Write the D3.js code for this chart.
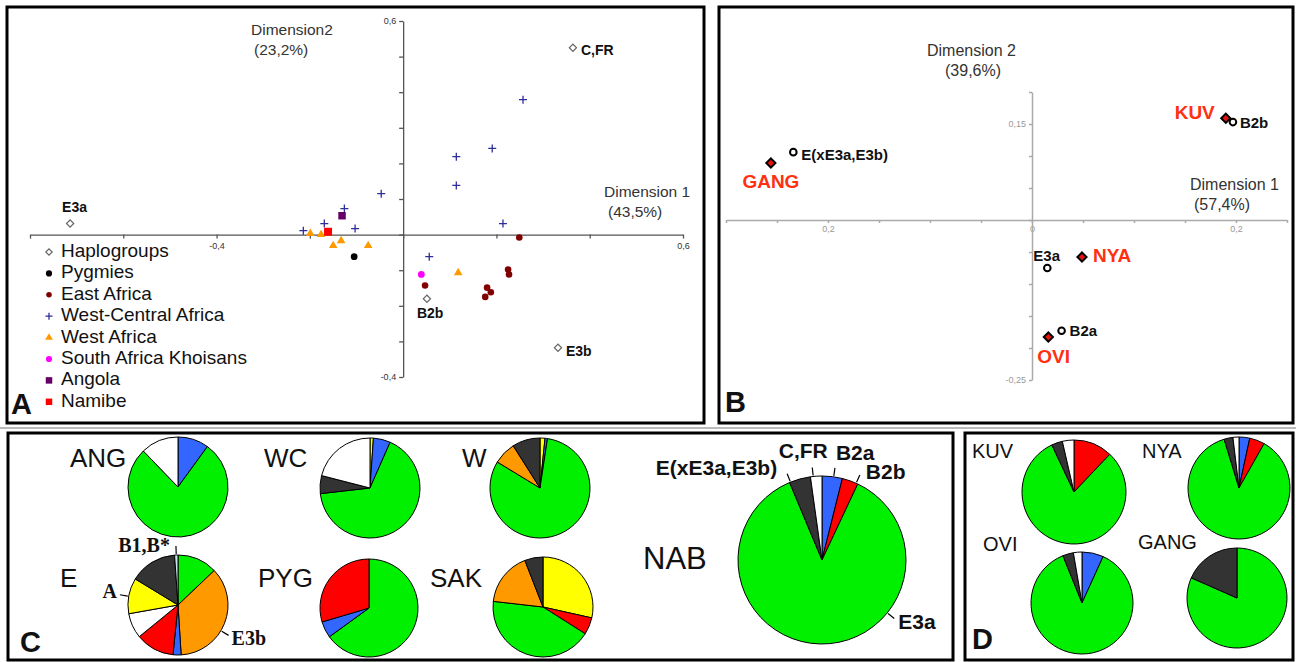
<!DOCTYPE html>
<html>
<head>
<meta charset="utf-8">
<script src="https://cdn.jsdelivr.net/npm/d3@7/dist/d3.min.js"></script>
<style>
body { margin: 0; background: #fff; }
svg { display: block; font-family: "Liberation Sans", Arial, sans-serif; }
</style>
</head>
<body>
<svg id="svg" width="1296" height="662"></svg>
<script>
// ---------- A: correspondence analysis, all populations ----------
var hapA = [
    {name: 'E3a', x: -0.714, y: 0.031},
    {name: 'C,FR', x: 0.364, y: 0.525},
    {name: 'B2b', x: 0.051, y: -0.180},
    {name: 'E3b', x: 0.332, y: -0.318}
];
var pygmies = [[-0.105, -0.062]];
var eastAfrica = [[0.249, -0.008], [0.225, -0.098], [0.227, -0.112], [0.047, -0.143],
                  [0.180, -0.149], [0.188, -0.162], [0.176, -0.175]];
var westCentral = [[-0.214, 0.011], [-0.169, 0.031], [-0.126, 0.073], [-0.103, 0.017],
                   [-0.047, 0.115], [0.114, 0.219], [0.114, 0.138], [0.191, 0.242],
                   [0.257, 0.379], [0.214, 0.031], [0.056, -0.062]];
var westAfrica = [[-0.199, 0.003], [-0.176, 0.000], [-0.150, -0.031], [-0.133, -0.017],
                  [-0.075, -0.031], [0.118, -0.107]];
var khoisans = [[0.039, -0.112]];
var angola = [[-0.131, 0.053]];
var namibe = [[-0.161, 0.008]];
var legendA = ['Haplogroups', 'Pygmies', 'East Africa', 'West-Central Africa', 'West Africa',
               'South Africa Khoisans', 'Angola', 'Namibe'];
var xTicksA = [-0.4, 0.6], yTicksA = [0.6, -0.4];

// ---------- B: Angolan groups only ----------
var popsB = [
    {name: 'KUV', x: 0.190, y: 0.159},
    {name: 'GANG', x: -0.256, y: 0.089},
    {name: 'NYA', x: 0.049, y: -0.058},
    {name: 'OVI', x: 0.016, y: -0.183}
];
var hapB = [
    {name: 'B2b', x: 0.197, y: 0.153},
    {name: 'E(xE3a,E3b)', x: -0.234, y: 0.106},
    {name: 'E3a', x: 0.015, y: -0.075},
    {name: 'B2a', x: 0.029, y: -0.173}
];
var xTicksB = [-0.2, 0, 0.2], xTickTextB = ['0,2', '0', '0,2'];
var yTicksB = [0.15, -0.25], yTickTextB = ['0,15', '-0,25'];

// ---------- C / D: haplogroup frequencies (%), clockwise from 12 o'clock ----------
var pieANG = [['B2a', 10.0], ['E3a', 77.8], ['CFR', 12.2]];
var pieWC = [['A', 1.1], ['B2a', 5.5], ['E3a', 66.6], ['Ex', 5.8], ['CFR', 21.0]];
var pieW = [['A', 1.6], ['B2a', 0.8], ['E3a', 81.3], ['E3b', 7.3], ['Ex', 9.0]];
var pieE = [['E3a', 12.9], ['E3b', 36.1], ['B2a', 2.6], ['B2b', 12.5], ['CFR', 8.1],
            ['A', 11.5], ['Ex', 15.2], ['B1', 1.1]];
var piePYG = [['E3a', 65.0], ['B2a', 5.4], ['B2b', 29.6]];
var pieSAK = [['A', 28.5], ['B2b', 5.5], ['E3a', 42.8], ['E3b', 17.3], ['Ex', 5.9]];
var pieNAB = [['B2a', 3.9], ['B2b', 3.1], ['E3a', 86.7], ['Ex', 4.1], ['CFR', 2.2]];
var pieKUV = [['B2b', 12.1], ['E3a', 80.9], ['Ex', 3.4], ['CFR', 3.6]];
var pieNYA = [['B2a', 3.4], ['B2b', 4.8], ['E3a', 87.1], ['Ex', 2.8], ['CFR', 1.9]];
var pieOVI = [['B2a', 6.8], ['E3a', 87.1], ['Ex', 3.4], ['CFR', 2.7]];
var pieGANG = [['E3a', 81.6], ['Ex', 18.4]];

var hapColor = {A: '#ffff00', B2a: '#3366ff', B2b: '#ff0000', E3a: '#00f000', E3b: '#ff9900',
                Ex: '#333333', CFR: '#ffffff', B1: '#cfe4ec'};

var svg = d3.select('#svg');
var FONT = '"Liberation Sans", Arial, sans-serif';

// panel frames
function frame(x0, y0, x1, y1) {
    svg.append('rect').attr('x', x0).attr('y', y0).attr('width', x1 - x0).attr('height', y1 - y0)
        .attr('fill', 'none').attr('stroke', '#000').attr('stroke-width', 3);
}
frame(7, 7, 704, 423);
frame(719, 7, 1293, 423);
frame(8, 433, 953, 660);
frame(965, 433, 1293, 660);
svg.append('line').attr('x1', 0).attr('x2', 1296).attr('y1', 428).attr('y2', 428)
    .attr('stroke', '#777').attr('stroke-width', 1);

function txt(g, x, y, s, size, opt) {
    opt = opt || {};
    return g.append('text').attr('x', x).attr('y', y).text(s)
        .attr('font-size', size).attr('font-family', opt.family || FONT)
        .attr('font-weight', opt.weight || 'normal')
        .attr('fill', opt.fill || '#111')
        .attr('text-anchor', opt.anchor || 'start');
}

function mark(g, shape, size) {
    var p;
    if (shape === 'plus') {
        p = g.append('path').attr('d', 'M' + (-size) + ',0H' + size + 'M0,' + (-size) + 'V' + size);
    } else if (shape === 'diamond') {
        p = g.append('path').attr('d', d3.symbol().type(d3.symbolSquare).size(size)())
            .attr('transform', 'rotate(45)');
    } else {
        var t = {circle: d3.symbolCircle, triangle: d3.symbolTriangle, square: d3.symbolSquare}[shape];
        p = g.append('path').attr('d', d3.symbol().type(t).size(size)());
    }
    return p;
}

function tickText(d, vals, texts) {
    for (var i = 0; i < vals.length; i++) {
        if (Math.abs(vals[i] - d) < 1e-6) return texts ? texts[i] : String(vals[i]).replace('.', ',');
    }
    return '';
}

function styleAxis(sel, col, w, tcol) {
    sel.selectAll('path, line').attr('stroke', col).attr('stroke-width', w);
    sel.selectAll('text').attr('font-size', 9).attr('fill', tcol).attr('font-family', FONT);
}

// ================= Panel A =================
var gA = svg.append('g');
var xA = d3.scaleLinear().domain([-0.8, 0.6]).range([30, 683]);
var yA = d3.scaleLinear().domain([-0.4, 0.6]).range([377, 21]);

var axXA = gA.append('g').attr('transform', 'translate(0,' + yA(0) + ')')
    .call(d3.axisBottom(xA).tickValues(d3.range(-4, 4).map(function (i) { return i * 0.2; }))
        .tickSize(4).tickSizeOuter(0)
        .tickFormat(function (d) { return tickText(d, xTicksA); }));
styleAxis(axXA, '#555', 1.3, '#333');
axXA.selectAll('text').attr('y', 8);

var axYA = gA.append('g').attr('transform', 'translate(' + xA(0) + ',0)')
    .call(d3.axisLeft(yA).tickValues(d3.range(-4, 7).map(function (i) { return i * 0.1; }))
        .tickSize(4).tickSizeOuter(0)
        .tickFormat(function (d) { return tickText(d, yTicksA); }));
styleAxis(axYA, '#555', 1.3, '#333');

var seriesA = [
    {pts: hapA.map(function (d) { return [d.x, d.y]; }), shape: 'diamond', fill: '#fff', stroke: '#666', sw: 1.2, size: 26, lsize: 20},
    {pts: pygmies, shape: 'circle', fill: '#000', stroke: 'none', size: 36, lsize: 30},
    {pts: eastAfrica, shape: 'circle', fill: '#800000', stroke: 'none', size: 34, lsize: 24},
    {pts: westCentral, shape: 'plus', fill: 'none', stroke: '#2e2e9a', sw: 1.3, size: 4, lsize: 3.5},
    {pts: westAfrica, shape: 'triangle', fill: '#ff9900', stroke: 'none', size: 32, lsize: 26},
    {pts: khoisans, shape: 'circle', fill: '#ff00ff', stroke: 'none', size: 36, lsize: 30},
    {pts: angola, shape: 'square', fill: '#660066', stroke: 'none', size: 56, lsize: 42},
    {pts: namibe, shape: 'square', fill: '#ff0000', stroke: 'none', size: 64, lsize: 42}
];

seriesA.forEach(function (s) {
    s.pts.forEach(function (p) {
        var g = gA.append('g').attr('transform', 'translate(' + xA(p[0]) + ',' + yA(p[1]) + ')');
        mark(g, s.shape, s.size).attr('fill', s.fill).attr('stroke', s.stroke).attr('stroke-width', s.sw || 0);
    });
});

var labA = {'E3a': [-8, -12], 'C,FR': [8, 7], 'B2b': [-10, 19], 'E3b': [8, 8]};
hapA.forEach(function (d) {
    txt(gA, xA(d.x) + labA[d.name][0], yA(d.y) + labA[d.name][1], d.name, 14, {weight: 'bold'});
});

txt(gA, 251, 35, 'Dimension2', 15.5, {fill: '#333'});
txt(gA, 254, 55, '(23,2%)', 15.5, {fill: '#333'});
txt(gA, 604, 197, 'Dimension 1', 15.5, {fill: '#333'});
txt(gA, 608, 217, '(43,5%)', 15.5, {fill: '#333'});

legendA.forEach(function (name, i) {
    var s = seriesA[i], y = 257 + i * 21.4;
    var g = gA.append('g').attr('transform', 'translate(49,' + (y - 5) + ')');
    mark(g, s.shape, s.lsize).attr('fill', s.fill).attr('stroke', s.stroke).attr('stroke-width', s.sw || 0);
    txt(gA, 61, y, name, 19);
});
txt(gA, 11, 414, 'A', 29, {weight: 'bold'});

// ================= Panel B =================
var gB = svg.append('g');
var xB = d3.scaleLinear().domain([-0.3, 0.25]).range([726, 1287]);
var yB = d3.scaleLinear().domain([-0.25, 0.2]).range([380, 92]);

var axXB = gB.append('g').attr('transform', 'translate(0,' + yB(0) + ')')
    .call(d3.axisBottom(xB).tickValues(d3.range(-6, 6).map(function (i) { return i * 0.05; }))
        .tickSize(3).tickSizeOuter(0)
        .tickFormat(function (d) { return tickText(d, xTicksB, xTickTextB); }));
styleAxis(axXB, '#aaa', 1.5, '#999');
axXB.selectAll('text').attr('y', 6);

var axYB = gB.append('g').attr('transform', 'translate(' + xB(0) + ',0)')
    .call(d3.axisLeft(yB).tickValues(d3.range(-5, 5).map(function (i) { return i * 0.05; }))
        .tickSize(3).tickSizeOuter(0)
        .tickFormat(function (d) { return tickText(d, yTicksB, yTickTextB); }));
styleAxis(axYB, '#aaa', 1.5, '#999');

hapB.forEach(function (d) {
    gB.append('circle').attr('cx', xB(d.x)).attr('cy', yB(d.y)).attr('r', 3.3)
        .attr('fill', '#fff').attr('stroke', '#000').attr('stroke-width', 2);
});
popsB.forEach(function (d) {
    var g = gB.append('g').attr('transform', 'translate(' + xB(d.x) + ',' + yB(d.y) + ')');
    mark(g, 'diamond', 42).attr('fill', '#e8120c').attr('stroke', '#000').attr('stroke-width', 2);
});

var labB = {
    'KUV': [-11, 1, 'end'], 'GANG': [0, 25, 'middle'], 'NYA': [11, 5, 'start'], 'OVI': [-11, 26, 'start'],
    'B2b': [7, 6, 'start'], 'E(xE3a,E3b)': [8, 8, 'start'], 'E3a': [-14, -7, 'start'], 'B2a': [8, 5, 'start']
};
popsB.forEach(function (d) {
    var o = labB[d.name];
    txt(gB, xB(d.x) + o[0], yB(d.y) + o[1], d.name, 19, {weight: 'bold', fill: '#ff3010', anchor: o[2]});
});
hapB.forEach(function (d) {
    var o = labB[d.name];
    txt(gB, xB(d.x) + o[0], yB(d.y) + o[1], d.name, 15, {weight: 'bold', anchor: o[2]});
});

txt(gB, 927, 56, 'Dimension 2', 16, {fill: '#333'});
txt(gB, 945, 76, '(39,6%)', 16, {fill: '#333'});
txt(gB, 1190, 190, 'Dimension 1', 16, {fill: '#333'});
txt(gB, 1194, 210, '(57,4%)', 16, {fill: '#333'});
txt(gB, 725, 412, 'B', 29, {weight: 'bold'});

// ================= Panels C and D: pies =================
var pies = [
    {name: 'ANG', data: pieANG, cx: 178, cy: 487, r: 50, lx: 70, ly: 467, fs: 26},
    {name: 'WC', data: pieWC, cx: 370, cy: 488, r: 50, lx: 264, ly: 467, fs: 26},
    {name: 'W', data: pieW, cx: 540, cy: 488, r: 50, lx: 462, ly: 467, fs: 26},
    {name: 'E', data: pieE, cx: 178, cy: 605, r: 50, lx: 60, ly: 587, fs: 26},
    {name: 'PYG', data: piePYG, cx: 369, cy: 608, r: 49, lx: 258, ly: 587, fs: 26},
    {name: 'SAK', data: pieSAK, cx: 543, cy: 607, r: 50, lx: 430, ly: 587, fs: 26},
    {name: 'NAB', data: pieNAB, cx: 822, cy: 560, r: 84, lx: 643, ly: 569, fs: 31},
    {name: 'KUV', data: pieKUV, cx: 1074, cy: 492, r: 52, lx: 972, ly: 458, fs: 20},
    {name: 'NYA', data: pieNYA, cx: 1239, cy: 488, r: 51, lx: 1142, ly: 458, fs: 20},
    {name: 'OVI', data: pieOVI, cx: 1082, cy: 603, r: 51, lx: 983, ly: 551, fs: 20},
    {name: 'GANG', data: pieGANG, cx: 1237, cy: 598, r: 50, lx: 1138, ly: 549, fs: 20}
];
var pieGen = d3.pie().sort(null).value(function (d) { return d[1]; });

pies.forEach(function (p) {
    var arc = d3.arc().innerRadius(0).outerRadius(p.r);
    var g = svg.append('g').attr('transform', 'translate(' + p.cx + ',' + p.cy + ')');
    g.selectAll('path').data(pieGen(p.data)).enter().append('path')
        .attr('d', arc)
        .attr('fill', function (d) { return hapColor[d.data[0]]; })
        .attr('stroke', '#000').attr('stroke-width', 1).attr('stroke-linejoin', 'round');
    txt(svg, p.lx, p.ly, p.name, p.fs);
});

// callouts: angle of the leader (degrees clockwise from 12), label offset from leader end
var callouts = [
    {pie: 'E', ang: 358, text: 'B1,B*', dx: -6, dy: 6, anchor: 'end', serif: true},
    {pie: 'E', ang: 280, text: 'A', dx: -3, dy: 3, anchor: 'end', serif: true},
    {pie: 'E', ang: 121, text: 'E3b', dx: 3, dy: 10, anchor: 'start', serif: true},
    {pie: 'NAB', ang: 338, text: 'E(xE3a,E3b)', dx: -10, dy: 1, anchor: 'end'},
    {pie: 'NAB', ang: 354, text: 'C,FR', dx: -9, dy: -10, anchor: 'middle'},
    {pie: 'NAB', ang: 8, text: 'B2a', dx: 1, dy: -8, anchor: 'start'},
    {pie: 'NAB', ang: 24, text: 'B2b', dx: 6, dy: 4, anchor: 'start'},
    {pie: 'NAB', ang: 129, text: 'E3a', dx: 4, dy: 10, anchor: 'start'}
];
callouts.forEach(function (c) {
    var p = pies.filter(function (q) { return q.name === c.pie; })[0];
    var a = c.ang * Math.PI / 180, sx = Math.sin(a), sy = -Math.cos(a);
    var x0 = p.cx + (p.r + 1) * sx, y0 = p.cy + (p.r + 1) * sy;
    var x1 = p.cx + (p.r + 9) * sx, y1 = p.cy + (p.r + 9) * sy;
    svg.append('line').attr('x1', x0).attr('y1', y0).attr('x2', x1).attr('y2', y1)
        .attr('stroke', '#000').attr('stroke-width', 1.2);
    if (c.serif) {
        txt(svg, x1 + c.dx, y1 + c.dy, c.text, 20, {weight: 'bold', anchor: c.anchor,
            family: '"Liberation Serif", "Times New Roman", serif'});
    } else {
        txt(svg, x1 + c.dx, y1 + c.dy, c.text, 21, {weight: 'bold', anchor: c.anchor});
    }
});

txt(svg, 20, 652, 'C', 29, {weight: 'bold'});
txt(svg, 972, 649, 'D', 29, {weight: 'bold'});
</script>
</body>
</html>
